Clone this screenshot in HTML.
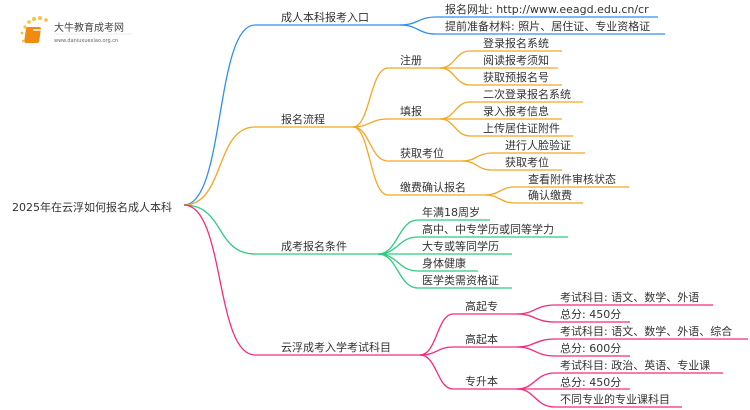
<!DOCTYPE html>
<html><head><meta charset="utf-8"><style>
html,body{margin:0;padding:0;background:#fff;width:750px;height:410px;overflow:hidden}
svg text{font-family:"DejaVu Sans","Noto Sans CJK SC",sans-serif;font-size:11px;fill:#333}
path{fill:none;stroke-width:1.3}
.b path{stroke:#2f8ff5}.o path{stroke:#f5a623}.g path{stroke:#2ecc80}.p path{stroke:#f52a7e}
</style></head><body>
<svg width="750" height="410" viewBox="0 0 750 410" xmlns="http://www.w3.org/2000/svg">
<g>
<circle cx="25" cy="27" r="1.6" fill="#f7c23a"/><circle cx="29" cy="22" r="1.8" fill="#f7c23a"/><circle cx="34" cy="19" r="2" fill="#f7c23a"/><circle cx="40" cy="18" r="2" fill="#f7c23a"/><circle cx="46" cy="20" r="1.8" fill="#f7c23a"/><circle cx="22" cy="33" r="1.4" fill="#f7c23a"/><circle cx="23" cy="41" r="1.2" fill="#f7c23a"/>
<rect x="30" y="27" width="15" height="16" rx="2" fill="#f08a10" transform="skewX(-8)"/>
<rect x="33" y="29" width="10" height="2" fill="#fff" opacity=".7"/>
<text x="54" y="31" style="font-size:10px;fill:#444">大牛教育成考网</text>
<text x="54" y="42" style="font-size:5px;fill:#666">www.daniuxuexiao.org.cn</text>
<line x1="54" y1="34" x2="132" y2="34" stroke="#ddd" stroke-width=".6"/>
</g>
<text x="12" y="211">2025年在云浮如何报名成人本科</text>

<g class="b">
<path d="M184 205 C225 205 215 25 255 25 H400"/>
<path d="M400 25 C418 25 418 17 436 17 H658"/>
<path d="M400 25 C418 25 418 34 436 34 H665"/>
</g>
<text x="281" y="21">成人本科报考入口</text>
<text x="445" y="13">报名网址: http://www.eeagd.edu.cn/cr</text>
<text x="445" y="30">提前准备材料: 照片、居住证、专业资格证</text>

<g class="o">
<path d="M184 205 C225 205 215 127 255 127 H353"/>
<path d="M353 127 C370 127 370 68 388 68 H440"/>
<path d="M353 127 C370 127 370 119 388 119 H440"/>
<path d="M353 127 C370 127 370 161 388 161 H462"/>
<path d="M353 127 C370 127 370 195 388 195 H485"/>
<path d="M440 68 C455 68 455 51 470 51 H562"/>
<path d="M440 68 H558"/>
<path d="M440 68 C455 68 455 85 470 85 H562"/>
<path d="M440 119 C455 119 455 102 470 102 H583"/>
<path d="M440 119 H562"/>
<path d="M440 119 C455 119 455 136 470 136 H573"/>
<path d="M462 161 C477 161 477 153 492 153 H585"/>
<path d="M462 161 C477 161 477 170 492 170 H562"/>
<path d="M485 195 C500 195 500 187 515 187 H629"/>
<path d="M485 195 C500 195 500 203 515 203 H583"/>
</g>
<text x="281" y="123">报名流程</text>
<text x="400" y="64">注册</text>
<text x="400" y="115">填报</text>
<text x="400" y="157">获取考位</text>
<text x="400" y="191">缴费确认报名</text>
<text x="483" y="47">登录报名系统</text>
<text x="483" y="64">阅读报考须知</text>
<text x="483" y="81">获取预报名号</text>
<text x="483" y="98">二次登录报名系统</text>
<text x="483" y="115">录入报考信息</text>
<text x="483" y="132">上传居住证附件</text>
<text x="505" y="149">进行人脸验证</text>
<text x="505" y="166">获取考位</text>
<text x="528" y="183">查看附件审核状态</text>
<text x="528" y="199">确认缴费</text>

<g class="g">
<path d="M184 205 C225 205 215 254 255 254 H378"/>
<path d="M378 254 C398 254 398 220 418 220 H490"/>
<path d="M378 254 C398 254 398 237 418 237 H568"/>
<path d="M378 254 H512"/>
<path d="M378 254 C398 254 398 271 418 271 H478"/>
<path d="M378 254 C398 254 398 288 418 288 H512"/>
</g>
<text x="281" y="250">成考报名条件</text>
<text x="422" y="216">年满18周岁</text>
<text x="422" y="233">高中、中专学历或同等学力</text>
<text x="422" y="250">大专或等同学历</text>
<text x="422" y="267">身体健康</text>
<text x="422" y="284">医学类需资格证</text>

<g class="p">
<path d="M184 205 C225 205 215 355 255 355 H420"/>
<path d="M420 355 C437 355 437 314 453 314 H517"/>
<path d="M420 355 C437 355 437 347 453 347 H517"/>
<path d="M420 355 C437 355 437 389 453 389 H517"/>
<path d="M517 314 C535 314 535 305 555 305 H713"/>
<path d="M517 314 C535 314 535 322 555 322 H630"/>
<path d="M517 347 C535 347 535 339 555 339 H748"/>
<path d="M517 347 C535 347 535 356 555 356 H630"/>
<path d="M517 389 C535 389 535 373 555 373 H723"/>
<path d="M517 389 H630"/>
<path d="M517 389 C535 389 535 407 555 407 H682"/>
</g>
<text x="281" y="351">云浮成考入学考试科目</text>
<text x="465" y="310">高起专</text>
<text x="465" y="343">高起本</text>
<text x="465" y="385">专升本</text>
<text x="560" y="301">考试科目: 语文、数学、外语</text>
<text x="560" y="318">总分: 450分</text>
<text x="560" y="335">考试科目: 语文、数学、外语、综合</text>
<text x="560" y="352">总分: 600分</text>
<text x="560" y="369">考试科目: 政治、英语、专业课</text>
<text x="560" y="386">总分: 450分</text>
<text x="560" y="403">不同专业的专业课科目</text>
</svg>
</body></html>
